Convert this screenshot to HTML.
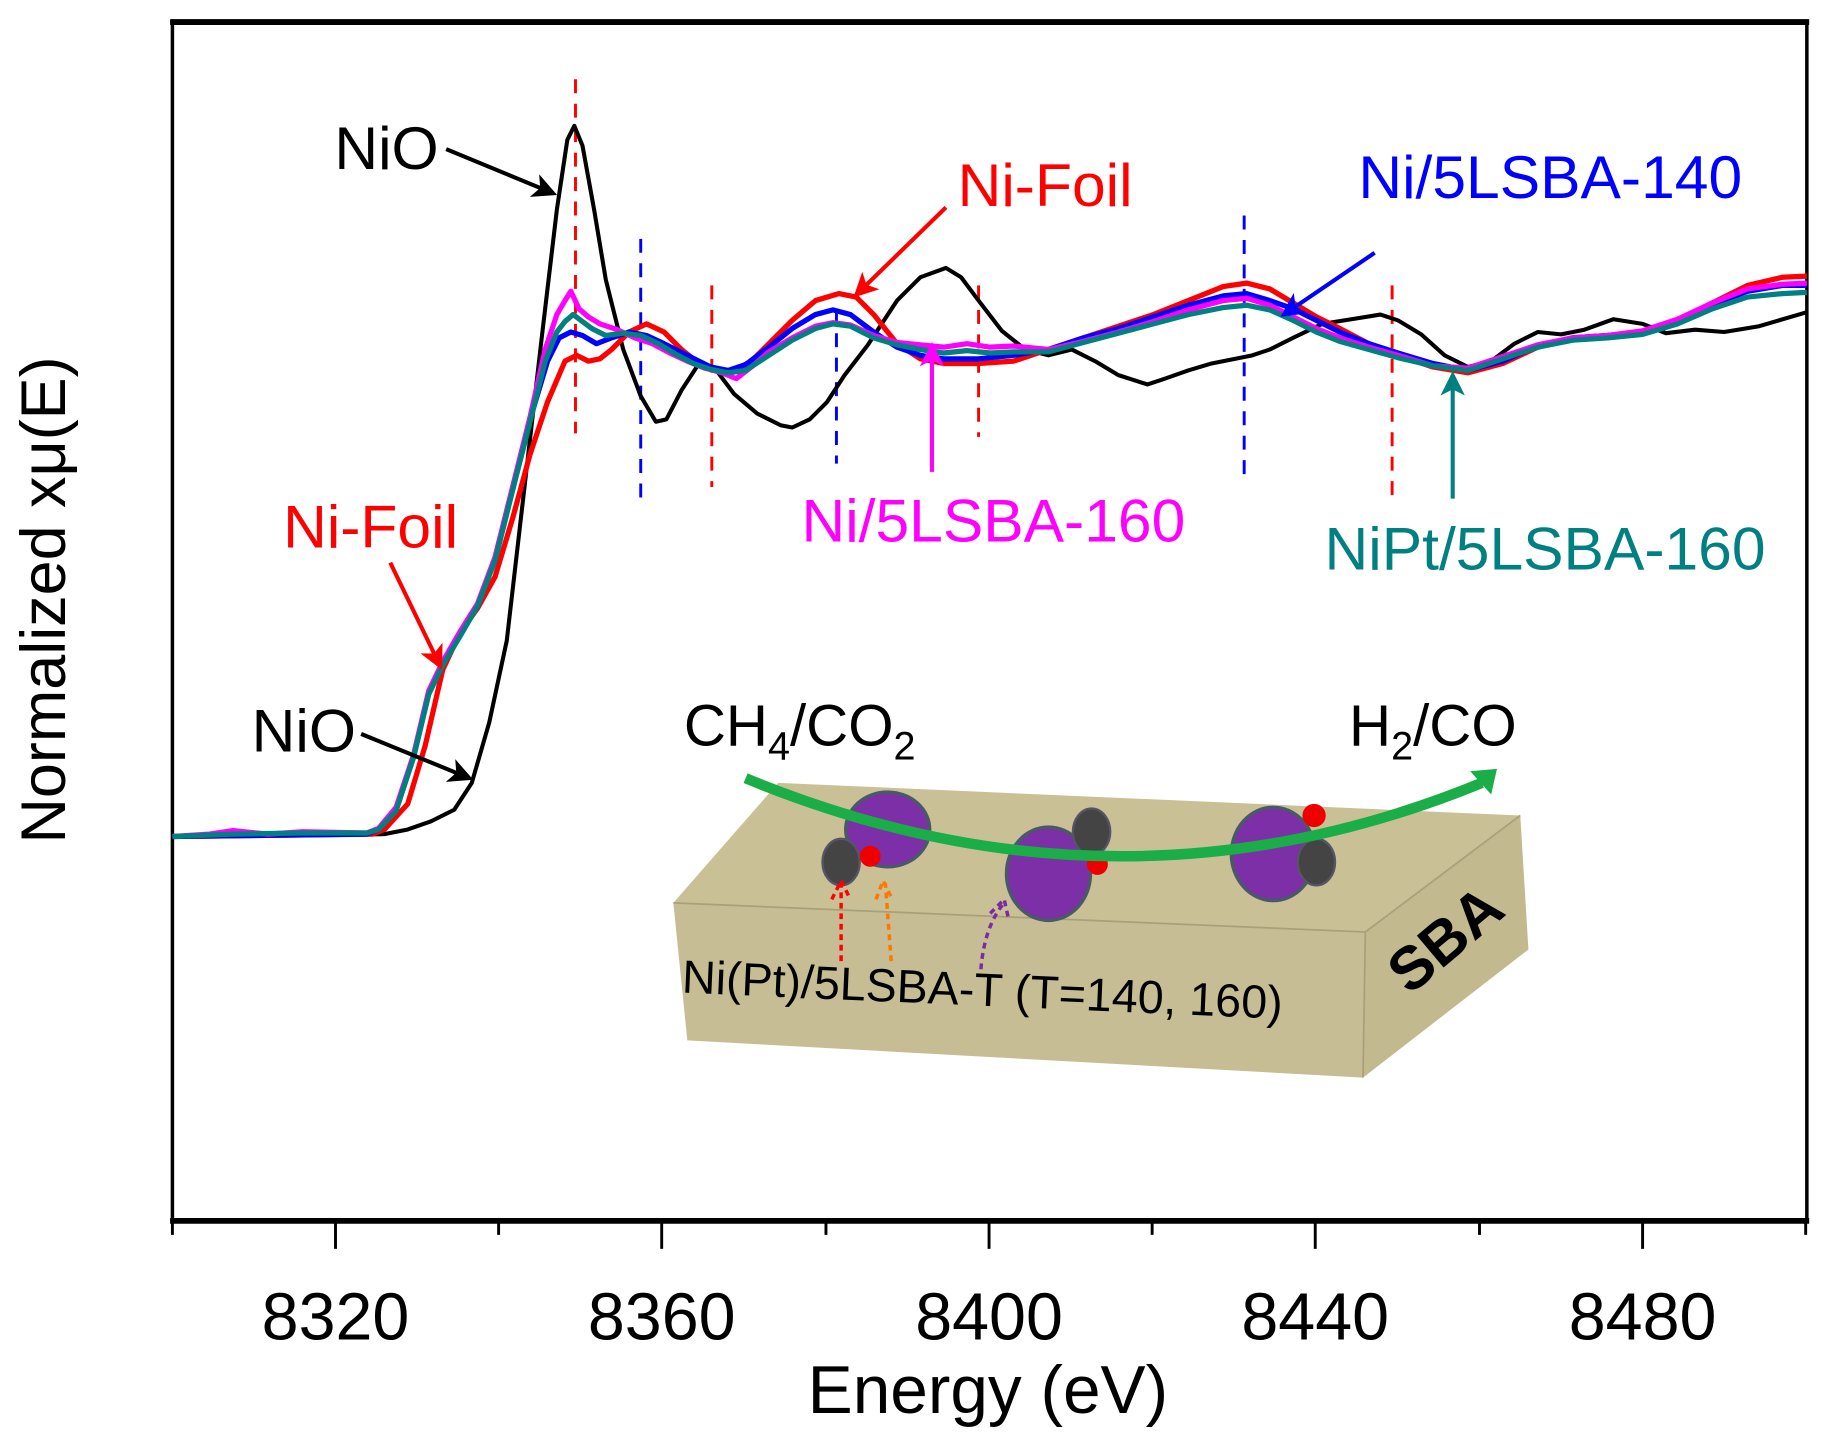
<!DOCTYPE html>
<html><head><meta charset="utf-8"><style>html,body{margin:0;padding:0;background:#fff}svg{display:block}</style></head><body>
<svg width="1822" height="1437" viewBox="0 0 1564 1233.5" xmlns="http://www.w3.org/2000/svg" font-family="Liberation Sans, Arial, sans-serif">
<defs>
<marker id="ak" markerWidth="6" markerHeight="6" refX="5" refY="3" orient="auto" markerUnits="strokeWidth"><path d="M0,0 L6,3 L0,6 L1.5,3 z" fill="#000"/></marker>
<marker id="ar" markerWidth="6" markerHeight="6" refX="5" refY="3" orient="auto" markerUnits="strokeWidth"><path d="M0,0 L6,3 L0,6 L1.5,3 z" fill="#f00"/></marker>
<marker id="ab" markerWidth="6" markerHeight="6" refX="5" refY="3" orient="auto" markerUnits="strokeWidth"><path d="M0,0 L6,3 L0,6 L1.5,3 z" fill="#00f"/></marker>
<marker id="am" markerWidth="6" markerHeight="6" refX="5" refY="3" orient="auto" markerUnits="strokeWidth"><path d="M0,0 L6,3 L0,6 L1.5,3 z" fill="#f0f"/></marker>
<marker id="at" markerWidth="6" markerHeight="6" refX="5" refY="3" orient="auto" markerUnits="strokeWidth"><path d="M0,0 L6,3 L0,6 L1.5,3 z" fill="#008080"/></marker>
</defs>
<rect x="148" y="18" width="1403" height="1030" fill="none" stroke="#000" stroke-width="3"/>
<line x1="146" y1="19" x2="1553" y2="19" stroke="#000" stroke-width="5"/>
<line x1="146" y1="1048" x2="1553" y2="1048" stroke="#000" stroke-width="5"/>
<g stroke="#000" stroke-width="2.5">
<line x1="148" y1="1048" x2="148" y2="1060"/><line x1="288" y1="1048" x2="288" y2="1072"/>
<line x1="428" y1="1048" x2="428" y2="1060"/><line x1="568" y1="1048" x2="568" y2="1072"/>
<line x1="709" y1="1048" x2="709" y2="1060"/><line x1="849" y1="1048" x2="849" y2="1072"/>
<line x1="989" y1="1048" x2="989" y2="1060"/><line x1="1129" y1="1048" x2="1129" y2="1072"/>
<line x1="1270" y1="1048" x2="1270" y2="1060"/><line x1="1410" y1="1048" x2="1410" y2="1072"/>
<line x1="1550" y1="1048" x2="1550" y2="1060"/>
</g>
<g font-size="57" text-anchor="middle" fill="#000">
<text x="288" y="1150">8320</text><text x="568" y="1150">8360</text><text x="849" y="1150">8400</text><text x="1129" y="1150">8440</text><text x="1410" y="1150">8480</text>
</g>
<text x="848" y="1213" font-size="58" text-anchor="middle">Energy (eV)</text>
<text transform="translate(56,515) rotate(-90)" font-size="54" text-anchor="middle">Normalized xμ(E)</text>

<g stroke-width="2.5" stroke-dasharray="12,9" fill="none">
<line x1="494" y1="68" x2="494" y2="372" stroke="#f00"/>
<line x1="611" y1="245" x2="611" y2="418" stroke="#f00"/>
<line x1="840" y1="245" x2="840" y2="375" stroke="#f00"/>
<line x1="1195" y1="245" x2="1195" y2="432" stroke="#f00"/>
<line x1="550" y1="205" x2="550" y2="432" stroke="#00f"/>
<line x1="718" y1="265" x2="718" y2="398" stroke="#00f"/>
<line x1="1068" y1="185" x2="1068" y2="410" stroke="#00f"/>
</g>

<g fill="none" stroke-width="4.5" stroke-linejoin="round">
<polyline stroke="#000" stroke-width="3.5" points="148,718 330,716 350,712 370,705 390,695 405,672 420,620 435,550 450,420 465,290 478,180 487,120 493,108 500,125 510,180 520,240 535,300 550,340 563,362 572,360 585,335 600,312 615,318 630,338 650,355 670,365 680,367 695,360 710,345 725,322 745,296 770,258 790,238 812,230 825,238 840,258 860,284 880,300 900,305 920,300 940,310 960,322 985,330 1000,325 1020,318 1040,312 1060,308 1075,305 1090,300 1110,290 1135,278 1160,274 1185,270 1200,275 1220,287 1240,305 1260,315 1280,310 1300,295 1320,285 1340,287 1360,283 1385,274 1410,278 1430,286 1455,283 1480,285 1510,280 1551,268"/>
<polyline stroke="#f00" points="148,718 320,716 330,712 350,690 365,640 380,575 395,543 410,522 425,495 440,445 455,390 470,345 485,310 495,305 505,310 515,308 525,300 540,285 555,278 570,285 585,300 600,312 615,318 630,318 645,310 660,295 680,275 700,258 720,252 735,255 750,270 770,295 790,308 810,312 840,312 870,310 900,300 930,290 960,280 990,270 1020,258 1050,246 1070,243 1090,248 1110,260 1130,272 1150,282 1175,295 1200,305 1230,315 1260,320 1290,312 1320,298 1350,290 1380,288 1410,285 1440,275 1470,260 1500,245 1530,238 1551,237"/>
<polyline stroke="#00f" points="148,718 315,716 325,712 340,695 355,650 368,595 380,570 395,545 410,520 425,480 440,420 455,360 470,310 480,290 490,285 500,288 512,295 525,290 540,285 555,288 570,295 590,305 610,315 625,318 640,313 660,298 680,282 700,270 715,266 730,270 750,285 770,298 790,305 810,308 840,308 870,305 900,300 930,290 960,282 990,272 1020,262 1050,254 1070,252 1090,258 1110,265 1130,275 1150,285 1175,295 1200,303 1230,312 1260,318 1290,310 1320,297 1350,290 1380,288 1410,285 1440,276 1470,262 1500,250 1530,245 1551,245"/>
<polyline stroke="#f0f" points="148,718 180,716 200,713 230,716 260,714 315,715 325,711 340,693 355,648 368,593 380,568 395,542 410,518 425,478 440,418 455,358 468,300 478,270 485,258 490,250 497,265 505,272 515,278 530,283 545,290 560,295 575,303 590,310 605,316 620,320 632,325 645,315 660,302 680,290 700,280 715,277 730,279 750,288 770,294 790,296 810,298 830,295 850,298 870,297 900,300 930,293 960,285 990,276 1020,266 1050,258 1070,256 1090,262 1110,272 1130,282 1150,290 1175,298 1200,305 1230,314 1260,316 1290,306 1320,296 1350,290 1380,288 1410,284 1440,274 1470,260 1500,248 1530,244 1551,243"/>
<polyline stroke="#008080" points="148,718 200,716 260,715 315,715 325,712 340,696 355,650 368,596 380,571 395,546 410,520 425,481 440,421 455,362 468,310 478,285 485,276 492,270 500,276 508,282 520,288 535,286 550,288 565,295 580,304 595,312 610,317 625,320 640,318 660,305 680,292 700,282 715,278 730,280 750,290 770,296 790,300 810,303 830,301 850,303 870,302 900,302 930,294 960,286 990,278 1020,270 1050,264 1070,262 1090,266 1110,275 1130,285 1150,293 1175,300 1200,307 1230,314 1260,318 1290,308 1320,298 1350,292 1380,290 1410,287 1440,278 1470,265 1500,255 1530,252 1551,251"/>
</g>

<g font-size="52">
<text x="287" y="145" fill="#000">NiO</text>
<text x="822" y="177" fill="#f00">Ni-Foil</text>
<text x="1166" y="170" fill="#00f">Ni/5LSBA-140</text>
<text x="688" y="465" fill="#f0f">Ni/5LSBA-160</text>
<text x="1137" y="489" fill="#008080">NiPt/5LSBA-160</text>
<text x="243" y="470" fill="#f00">Ni-Foil</text>
<text x="216" y="645" fill="#000">NiO</text>
</g>
<g stroke-width="3.5" fill="none">
<line x1="383" y1="128" x2="475" y2="166" stroke="#000" marker-end="url(#ak)"/>
<line x1="812" y1="178" x2="735" y2="253" stroke="#f00" marker-end="url(#ar)"/>
<line x1="1180" y1="217" x2="1102" y2="270" stroke="#00f" marker-end="url(#ab)"/>
<line x1="800" y1="405" x2="800" y2="297" stroke="#f0f" marker-end="url(#am)"/>
<line x1="1247" y1="428" x2="1247" y2="322" stroke="#008080" marker-end="url(#at)"/>
<line x1="335" y1="483" x2="378" y2="572" stroke="#f00" marker-end="url(#ar)"/>
<line x1="310" y1="630" x2="403" y2="668" stroke="#000" marker-end="url(#ak)"/>
</g>

<polygon points="578,775 668,672 1305,700 1172,800" fill="#c9c096"/>
<polygon points="578,775 1172,800 1170,925 590,893" fill="#c6bd94"/>
<polygon points="1172,800 1305,700 1312,815 1170,925" fill="#c2b98f"/>
<path d="M578,775 L1172,800 L1305,700 M1172,800 L1170,925" stroke="#a9a07a" stroke-width="1.5" fill="none"/>
<g>
<ellipse cx="762" cy="712" rx="36" ry="32" fill="#7d2fa8" stroke="#4a5868" stroke-width="3"/>
<ellipse cx="722" cy="740" rx="16" ry="20" fill="#444" stroke="#556" stroke-width="2"/>
<circle cx="747" cy="735" r="9" fill="#e00"/>
<ellipse cx="900" cy="750" rx="36" ry="40" fill="#7d2fa8" stroke="#4a5868" stroke-width="3"/>
<ellipse cx="937" cy="714" rx="16" ry="20" fill="#444" stroke="#556" stroke-width="2"/>
<circle cx="942" cy="742" r="9" fill="#e00"/>
<ellipse cx="1093" cy="733" rx="36" ry="40" fill="#7d2fa8" stroke="#4a5868" stroke-width="3"/>
<ellipse cx="1130" cy="740" rx="16" ry="20" fill="#444" stroke="#556" stroke-width="2"/>
<circle cx="1128" cy="700" r="10" fill="#e00"/>
</g>
<path d="M640,668 Q960,800 1272,672" stroke="#1aad48" stroke-width="9" fill="none"/>
<polygon points="1262,662 1285,660 1280,682" fill="#1aad48"/>
<text x="587" y="640" font-size="50">CH<tspan font-size="34" dy="12">4</tspan><tspan dy="-12">/CO</tspan><tspan font-size="34" dy="12">2</tspan></text>
<text x="1158" y="640" font-size="50">H<tspan font-size="34" dy="12">2</tspan><tspan dy="-12">/CO</tspan></text>
<g stroke-width="3" stroke-dasharray="5,4" fill="none">
<path d="M722,825 L722,758 M714,772 L722,756 L730,772" stroke="#f00"/>
<path d="M765,825 L760,758 M752,772 L758,756 L766,772" stroke="#f70"/>
<path d="M842,832 Q845,795 862,775 M850,784 L862,772 L866,790" stroke="#7b2da0"/>
</g>
<text transform="translate(585,852) rotate(2.5)" font-size="40" fill="#000">Ni(Pt)/5LSBA-T (T=140, 160)</text>
<text transform="translate(1210,855) rotate(-40)" font-size="52" font-weight="bold" fill="#000">SBA</text>
</svg>
</body></html>
